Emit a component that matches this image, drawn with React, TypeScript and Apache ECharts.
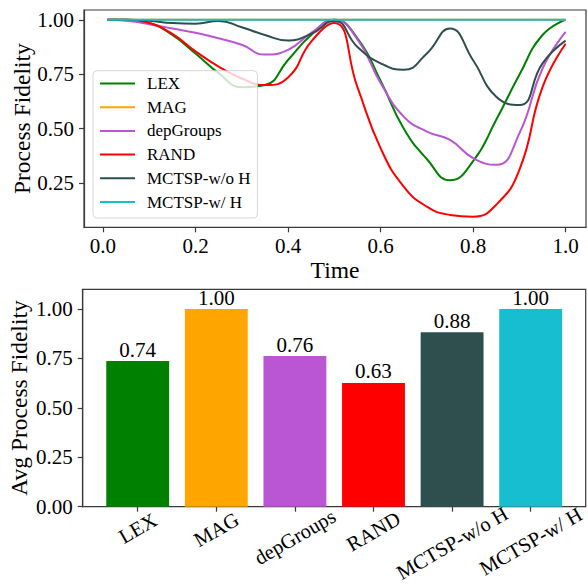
import React, { useEffect, useRef } from 'react';
import * as echarts from 'echarts';

// ---- data ----
const timePoints = [0.01, 0.05, 0.10, 0.15, 0.20, 0.25, 0.30, 0.35, 0.40, 0.45, 0.50, 0.55, 0.60, 0.65, 0.70, 0.75, 0.80, 0.85, 0.90, 0.95, 1.00];
const lexFidelity = [1.0, 1.0, 0.985, 0.93, 0.845, 0.755, 0.69, 0.70, 0.815, 0.93, 1.0, 0.915, 0.72, 0.50, 0.36, 0.262, 0.35, 0.54, 0.747, 0.93, 1.0];
const magFidelity = [1.0, 1.0, 1.0, 1.0, 1.0, 1.0, 1.0, 1.0, 1.0, 1.0, 1.0, 1.0, 1.0, 1.0, 1.0, 1.0, 1.0, 1.0, 1.0, 1.0, 1.0];
const depGroupsFidelity = [1.0, 0.995, 0.98, 0.96, 0.94, 0.915, 0.885, 0.84, 0.862, 0.94, 1.0, 0.91, 0.71, 0.555, 0.486, 0.448, 0.364, 0.333, 0.478, 0.776, 0.944];
const randFidelity = [1.0, 1.0, 0.985, 0.935, 0.855, 0.785, 0.73, 0.70, 0.735, 0.90, 0.985, 0.69, 0.41, 0.233, 0.141, 0.103, 0.095, 0.15, 0.31, 0.69, 0.89];
const mctspNoHFidelity = [1.0, 1.0, 0.995, 0.985, 0.982, 0.995, 0.966, 0.93, 0.905, 0.935, 0.995, 0.875, 0.80, 0.77, 0.845, 0.96, 0.814, 0.646, 0.608, 0.80, 0.904];
const mctspHFidelity = [1.0, 1.0, 1.0, 1.0, 1.0, 1.0, 1.0, 1.0, 1.0, 1.0, 1.0, 1.0, 1.0, 1.0, 1.0, 1.0, 1.0, 1.0, 1.0, 1.0, 1.0];

const methodNames = ['LEX', 'MAG', 'depGroups', 'RAND', 'MCTSP-w/o H', 'MCTSP-w/ H'];
const methodColors = ['#008000', '#ffa500', '#ba55d3', '#ff0000', '#2f4f4f', '#17becf'];
const avgFidelity = [0.737, 1.0, 0.762, 0.626, 0.883, 1.0];

const timeTicks = [0, 0.2, 0.4, 0.6, 0.8, 1.0];
const topFidelityTicks = [0.25, 0.5, 0.75, 1.0];
const bottomFidelityTicks = [0, 0.25, 0.5, 0.75, 1.0];
const categoryTicks = [0, 1, 2, 3, 4, 5];

const FONT = '"Liberation Serif", "Times New Roman", serif';
const FRAME = '#3a3a3a';

function measureWidth(text: string, size: number): number {
  const ctx = document.createElement('canvas').getContext('2d');
  if (!ctx) return text.length * size * 0.5;
  ctx.font = `${size}px "Liberation Serif"`;
  return ctx.measureText(text).width;
}

export default function App() {
  const ref = useRef<HTMLDivElement>(null);

  useEffect(() => {
    if (!ref.current) return;
    const chart = echarts.init(ref.current, undefined, { renderer: 'svg' });

    const seriesValues = [lexFidelity, magFidelity, depGroupsFidelity, randFidelity, mctspNoHFidelity, mctspHFidelity];

    // rotated category label offsets (matplotlib ha=center, va=top emulation)
    const labelSize = 20.5;
    const widths = methodNames.map((n) => measureWidth(n, labelSize));
    const minW = Math.min(...widths);
    const rich: Record<string, any> = {};
    methodNames.forEach((_, i) => {
      const d = ((widths[i] - minW) / 4) * 0.7;
      rich['c' + i] = {
        fontSize: labelSize,
        fontFamily: FONT,
        color: '#000',
        padding: [1.732 * d, d, 0, 0],
      };
    });

    const tickLabel = { fontSize: 21, fontFamily: FONT, color: '#000' };
    const nameStyle = { fontSize: 23.5, fontFamily: FONT, color: '#000' };
    const axisLineStyle = { show: true, onZero: false, lineStyle: { color: FRAME, width: 1.2 } };

    const option: any = {
      animation: false,
      backgroundColor: '#fff',
      grid: [
        { left: 84, top: 10, width: 502, height: 217.3, show: true, borderColor: FRAME, borderWidth: 1.2, backgroundColor: 'transparent', outerBoundsMode: 'none', containLabel: false },
        { left: 82.7, top: 289.3, width: 503, height: 217.4, show: true, borderColor: FRAME, borderWidth: 1.2, backgroundColor: 'transparent', outerBoundsMode: 'none', containLabel: false },
      ],
      xAxis: [
        {
          type: 'value', gridIndex: 0, min: -0.041, max: 1.044,
          name: 'Time', nameLocation: 'middle', nameGap: 31, nameTextStyle: nameStyle, nameMoveOverlap: false,
          axisLine: axisLineStyle,
          axisTick: { show: true, length: 5, customValues: timeTicks, lineStyle: { color: FRAME, width: 1.2 } },
          axisLabel: { ...tickLabel, margin: 8, customValues: timeTicks, formatter: (v: number) => v.toFixed(1), hideOverlap: false },
          splitLine: { show: false },
        },
        {
          type: 'value', gridIndex: 1, min: -0.7, max: 5.7,
          axisLine: axisLineStyle,
          axisTick: { show: true, length: 5, customValues: categoryTicks, lineStyle: { color: FRAME, width: 1.2 } },
          axisLabel: {
            customValues: categoryTicks,
            rotate: 30, align: 'center', verticalAlign: 'middle', margin: 21.5, hideOverlap: false,
            formatter: (v: number) => { const i = Math.round(v); return `{c${i}|${methodNames[i]}}`; },
            rich,
          },
          splitLine: { show: false },
        },
      ],
      yAxis: [
        {
          type: 'value', gridIndex: 0, min: 0.046, max: 1.045,
          name: 'Process Fidelity', nameLocation: 'middle', nameGap: 50, nameTextStyle: nameStyle, nameMoveOverlap: false,
          axisLine: axisLineStyle,
          axisTick: { show: true, length: 5, customValues: topFidelityTicks, lineStyle: { color: FRAME, width: 1.2 } },
          axisLabel: { ...tickLabel, margin: 10, customValues: topFidelityTicks, formatter: (v: number) => v.toFixed(2), hideOverlap: false },
          splitLine: { show: false },
        },
        {
          type: 'value', gridIndex: 1, min: 0, max: 1.1,
          name: 'Avg Process Fidelity', nameLocation: 'middle', nameGap: 52, nameTextStyle: nameStyle, nameMoveOverlap: false,
          axisLine: axisLineStyle,
          axisTick: { show: true, length: 5, customValues: bottomFidelityTicks, lineStyle: { color: FRAME, width: 1.2 } },
          axisLabel: { ...tickLabel, margin: 10, customValues: bottomFidelityTicks, formatter: (v: number) => v.toFixed(2), hideOverlap: false },
          splitLine: { show: false },
        },
      ],
      legend: {
        orient: 'vertical', left: 93, top: 70.7,
        data: methodNames,
        icon: 'rect', itemWidth: 35, itemHeight: 2, itemGap: 6.7,
        padding: [4.3, 7, 7.5, 7],
        backgroundColor: 'rgba(255,255,255,0.8)',
        borderColor: 'rgba(204,204,204,0.8)', borderWidth: 1, borderRadius: 4,
        textStyle: { fontFamily: FONT, fontSize: 17, lineHeight: 17, color: '#000', padding: [0, 0, 0, 7] },
        selectedMode: false,
      },
      series: [
        ...methodNames.map((name, i) => ({
          type: 'line', name, xAxisIndex: 0, yAxisIndex: 0,
          data: timePoints.map((t, k) => [t, seriesValues[i][k]]),
          smooth: 0.5, showSymbol: false, symbol: 'none',
          lineStyle: { color: methodColors[i], width: 2 },
          itemStyle: { color: methodColors[i] },
          z: 2 + i * 0.01,
        })),
        {
          type: 'bar', name: 'Avg Process Fidelity', xAxisIndex: 1, yAxisIndex: 1,
          barWidth: '80%',
          data: avgFidelity.map((v, i) => ({ value: [i, v], itemStyle: { color: methodColors[i] } })),
          label: {
            show: true, position: 'top', distance: 1,
            fontSize: 21, fontFamily: FONT, color: '#000',
            formatter: (p: any) => Number(p.value[1]).toFixed(2),
          },
        },
      ],
    };

    chart.setOption(option);
    return () => chart.dispose();
  }, []);

  return <div ref={ref} style={{ position: 'absolute', left: 0, top: 0, width: 588, height: 585 }} />;
}
